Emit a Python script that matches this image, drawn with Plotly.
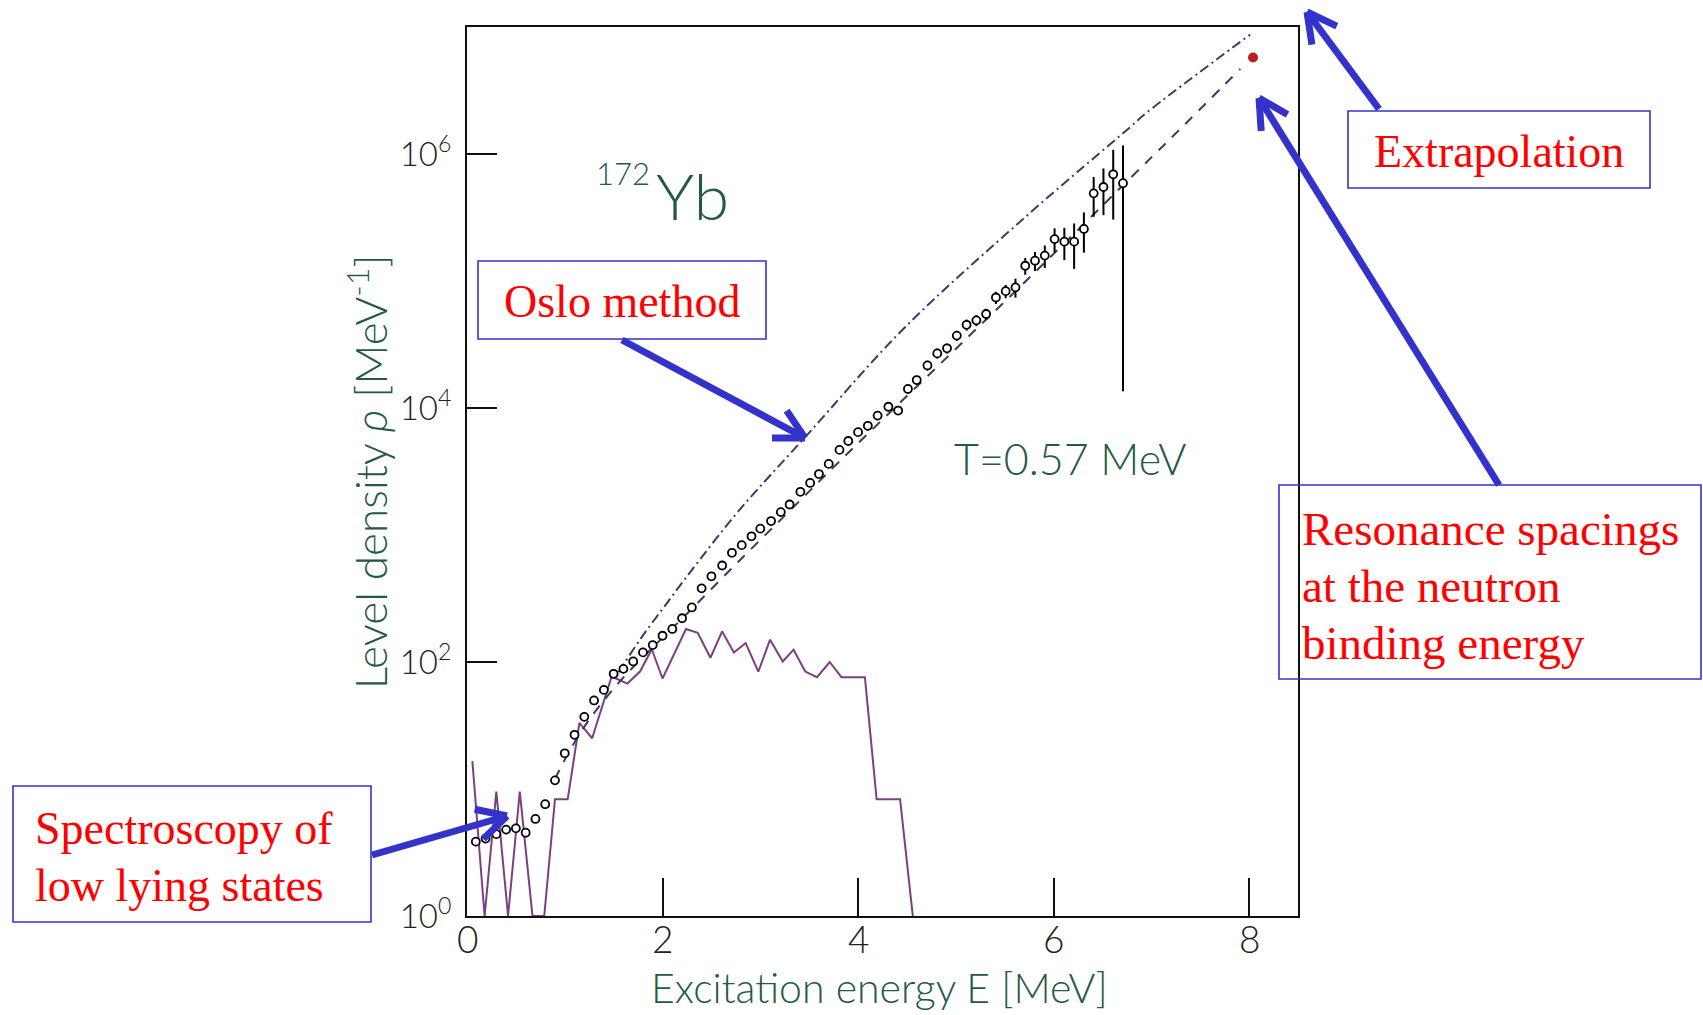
import math
import plotly.graph_objects as go

# ---------------- data ----------------
E_oslo = [0.09, 0.19, 0.30, 0.40, 0.50, 0.60,
          0.70, 0.80, 0.90, 1.00,
          1.10, 1.20, 1.30, 1.40, 1.50, 1.60, 1.70, 1.80, 1.90, 2.00,
          2.10, 2.20, 2.30, 2.40, 2.50, 2.61, 2.71, 2.81, 2.91, 3.00,
          3.11, 3.21, 3.30, 3.41, 3.51, 3.60, 3.70, 3.81, 3.90, 4.00,
          4.10, 4.20, 4.31, 4.41, 4.51, 4.60,
          4.71, 4.81, 4.91, 5.01,
          5.11, 5.21, 5.31,
          5.41, 5.51, 5.61, 5.71, 5.81, 5.91, 6.01, 6.11, 6.21, 6.31, 6.41, 6.51, 6.61, 6.71]
rho_oslo = [3.85, 4.07, 4.41, 4.79, 4.90, 4.53,
            5.81, 7.59, 11.7, 19.1,
            26.7, 37.0, 49.8, 60.3, 80.7, 88.3, 101, 119, 136, 161,
            182, 221, 269, 380, 473, 575, 724, 832, 977, 1122,
            1288, 1514, 1738, 2188, 2570, 3020, 3631, 4677, 5495, 6457,
            7244, 8710, 10233, 9550, 14125, 16596,
            21627, 26915, 29512, 37154,
            45186, 48978, 54954,
            74131, 83176, 89125, 131826, 144544, 158489, 213796, 204174, 204174, 257040,
            489779, 549541, 691831, 588844]
rel_err_oslo = [0.08, 0.08, 0.08, 0.08, 0.08, 0.08,
                0.07, 0.07, 0.07, 0.07,
                0.05, 0.05, 0.05, 0.05, 0.05, 0.05, 0.05, 0.05, 0.05, 0.05,
                0.04, 0.04, 0.04, 0.04, 0.04, 0.04, 0.04, 0.04, 0.04, 0.04,
                0.05, 0.05, 0.05, 0.05, 0.05, 0.05, 0.05, 0.05, 0.05, 0.05,
                0.08, 0.08, 0.08, 0.08, 0.08, 0.08,
                0.09, 0.09, 0.09, 0.09,
                0.10, 0.10, 0.10,
                0.11, 0.12, 0.17, 0.15, 0.17, 0.20, 0.215, 0.285, 0.39, 0.35,
                0.345, 0.40, 0.56, 0.977]

# discrete levels (purple)
E_disc = [0.055, 0.18, 0.30, 0.42, 0.54, 0.67, 0.79, 0.90, 1.03, 1.15, 1.28,
          1.48, 1.64, 1.77, 1.89, 2.00, 2.24, 2.36, 2.49, 2.61, 2.73, 2.85,
          2.98, 3.10, 3.23, 3.34, 3.46, 3.58, 3.71, 3.83, 3.95, 4.07, 4.19,
          4.31, 4.43, 4.56]
rho_disc = [16.6, 1, 9.55, 1, 9.55, 1, 1, 8.3, 8.3, 33.1, 25.1,
            76.9, 67.6, 84.1, 126, 74.1, 182, 170, 108, 174, 119, 141,
            84.1, 150, 101, 125, 84.1, 75.9, 100, 75.9, 75.9, 75.9, 8.3,
            8.3, 8.3, 1]

# upper extrapolation (dash-dot)
E_upper = [1.55, 1.77, 2.07, 2.38, 2.79, 3.47, 4.46, 5.72, 6.78, 6.95, 8.01]
rho_upper = [83, 150, 309, 638, 1585, 6026, 41687, 323594, 1.62e6, 2.11e6, 8.71e6]

# lower extrapolation, T = 0.57 MeV (dashed)
E_lower = [0.90, 1.05, 1.25, 1.50, 1.75, 2.00, 2.25, 2.75, 3.30, 3.81, 4.79,
           5.77, 6.91, 7.26, 7.91]
rho_lower = [12.0, 20.0, 35.1, 61.7, 100, 155, 240, 589, 1549, 3802, 20417,
             109648, 803526, 1.479e6, 4.677e6]

# neutron resonance point
E_bn = [8.04]
rho_bn = [5.75e6]
rho_bn_err = [0.32e6]

x_ticks = [0, 2, 4, 6, 8]
x_ticktext = ["0", "2", "4", "6", "8"]
y_tickvals = [1, 1e2, 1e4, 1e6]
y_ticktext = ["10<sup>0</sup>", "10<sup>2</sup>", "10<sup>4</sup>", "10<sup>6</sup>"]

# ---------------- geometry / style ----------------
W, H = 1703, 1015
PL, PR, PT, PB = 467, 1298, 27, 916   # plot area in pixels
GREEN = "#24594a"
BLUE = "#3333cc"
RED = "#ff0000"
NAVY = "#3a3a70"
PURPLE = "#7d3f82"
SANS = "Lato, 'Open Sans', sans-serif"
SERIF = "'Liberation Serif', 'Times New Roman', serif"


def px(x, y):
    return (x - PL) / (PR - PL), (PB - y) / (PB - PT)


fig = go.Figure()

fig.add_trace(go.Scatter(x=E_disc, y=rho_disc, mode="lines",
                         line=dict(color=PURPLE, width=2), hoverinfo="skip"))
fig.add_trace(go.Scatter(x=E_upper, y=rho_upper, mode="lines",
                         line=dict(color=NAVY, width=2, dash="10px,4px,2px,4px", shape="spline"),
                         hoverinfo="skip"))
fig.add_trace(go.Scatter(x=E_lower, y=rho_lower, mode="lines",
                         line=dict(color=NAVY, width=2, dash="10px,9px", shape="spline"),
                         hoverinfo="skip"))
fig.add_trace(go.Scatter(
    x=E_oslo, y=rho_oslo, mode="markers",
    marker=dict(symbol="circle", size=8, color="white", line=dict(width=1.8, color="black")),
    error_y=dict(type="data", array=[r * e for r, e in zip(rho_oslo, rel_err_oslo)],
                 color="black", thickness=2, width=0)))
fig.add_trace(go.Scatter(
    x=E_bn, y=rho_bn, mode="markers",
    marker=dict(symbol="circle", size=10, color="#b52020"),
    error_y=dict(type="data", array=rho_bn_err, color="#b52020", thickness=2, width=0)))

shapes = []
annotations = []


def box(x0, y0, x1, y1):
    a0, b0 = px(x0, y0)
    a1, b1 = px(x1, y1)
    shapes.append(dict(type="rect", xref="paper", yref="paper", x0=a0, y0=b1, x1=a1, y1=b0,
                       line=dict(color=BLUE, width=1.6), fillcolor="rgba(0,0,0,0)"))


def arrow(tail, tip, head_len=33, head_ang=28, width=7):
    tx, ty = tail
    hx, hy = tip
    ang = math.atan2(ty - hy, tx - hx)
    segs = [(tail, tip)]
    for s in (-1, 1):
        a = ang + s * math.radians(head_ang)
        segs.append(((hx + head_len * math.cos(a), hy + head_len * math.sin(a)), tip))
    for (p0, p1) in segs:
        a0, b0 = px(*p0)
        a1, b1 = px(*p1)
        shapes.append(dict(type="line", xref="paper", yref="paper", x0=a0, y0=b0, x1=a1, y1=b1,
                           line=dict(color=BLUE, width=width)))


def label(text, x, y, size, color, family, xanchor="center", yanchor="middle", angle=0, weight=400):
    a, b = px(x, y)
    annotations.append(dict(text=text, xref="paper", yref="paper", x=a, y=b,
                            xanchor=xanchor, yanchor=yanchor, showarrow=False,
                            textangle=angle,
                            font=dict(size=size, color=color, family=family, weight=weight)))


# annotation boxes + texts
box(478, 261, 766, 339)
label("Oslo method", 622, 301, 46, RED, SERIF)
box(1348, 111, 1650, 188)
label("Extrapolation", 1499, 151, 46, RED, SERIF)
box(1279, 485, 1701, 679)
label("Resonance spacings", 1300, 529, 47, RED, SERIF, xanchor="left")
label("at the neutron", 1300, 586, 47, RED, SERIF, xanchor="left")
label("binding energy", 1300, 643, 47, RED, SERIF, xanchor="left")
box(13, 786, 371, 922)
label("Spectroscopy of", 33, 828, 46, RED, SERIF, xanchor="left")
label("low lying states", 33, 885, 46, RED, SERIF, xanchor="left")

# arrows
arrow((622, 340), (805, 438))
arrow((1379, 109), (1307, 12))
arrow((1499, 485), (1259, 98))
arrow((372, 855), (507, 816))

# plot texts
label("172", 652, 173, 31, GREEN, SANS, xanchor="right", weight=300)
label("Yb", 654, 196, 64, GREEN, SANS, xanchor="left", weight=300)
label("T=0.57 MeV", 952, 458, 43, GREEN, SANS, xanchor="left", weight=300)

# x tick labels (placed at the tick values)
for v, t in zip(x_ticks, x_ticktext):
    annotations.append(dict(text=t, x=v, xref="x", y=(PB - 939) / (PB - PT), yref="paper",
                            xanchor="center", yanchor="middle", showarrow=False,
                            font=dict(size=37, color="#222", family=SANS, weight=300)))

# axis titles
label("Excitation energy E [MeV]", 879, 987, 41, GREEN, SANS, weight=300)
label("Level density <i>ρ</i> [MeV<sup>-1</sup>]", 367, 472, 44, GREEN, SANS, angle=-90, weight=300)

fig.update_layout(
    width=W, height=H, autosize=False,
    margin=dict(l=PL, r=W - PR, t=PT, b=H - PB, pad=0),
    paper_bgcolor="white", plot_bgcolor="white",
    showlegend=False,
    shapes=shapes, annotations=annotations,
    xaxis=dict(range=[0, 8.5], tickvals=x_ticks, ticks="inside", ticklen=38, tickwidth=2,
               tickcolor="#111", showline=True, mirror=True, linecolor="#111", linewidth=2,
               showgrid=False, zeroline=False, showticklabels=False),
    yaxis=dict(type="log", range=[0, 7], tickvals=y_tickvals, ticktext=y_ticktext,
               ticks="inside", ticklen=30, tickwidth=2, tickcolor="#111",
               showline=True, mirror=True, linecolor="#111", linewidth=2,
               showgrid=False, zeroline=False,
               tickfont=dict(size=33, color="#222", family=SANS, weight=300), ticklabelstandoff=7),
)

fig.write_html("out.html")
